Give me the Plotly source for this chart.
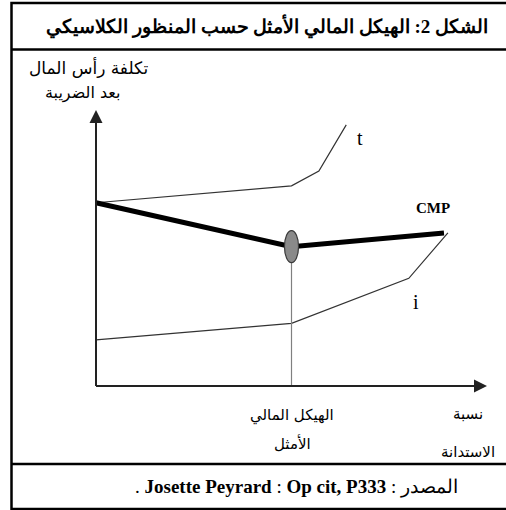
import plotly.graph_objects as go

# ---- data (debt ratio 0..100, cost 0..100 in arbitrary units) ----
t_x = [0, 50, 57, 64]
t_y = [66.4, 72.5, 77.9, 94.6]

cmp_x = [0, 50, 89]
cmp_y = [66.4, 50.5, 55.4]

i_x = [0, 50, 80, 90]
i_y = [16.7, 22.7, 39.0, 55.5]

opt_x = 50
opt_y = 50.5

title_text = "الشكل 2: الهيكل المالي الأمثل حسب المنظور الكلاسيكي"
y_label = ["تكلفة رأس المال", "بعد الضريبة"]
x_opt_label = ["الهيكل المالي", "الأمثل"]
x_label = ["نسبة", "الاستدانة"]
source_text = ". <b>Josette Peyrard</b> : <b>Op cit, P333</b> : المصدر"

W, H = 506, 510
# pixel placement of axes origin and arrow tips
X0PX, X1PX = 96, 487
Y0PX, Y1PX = 386, 110
xspan = 100 * W / (X1PX - X0PX)
xr0 = -X0PX / W * xspan
yspan = 100 * H / (Y0PX - Y1PX)
yr0 = -(H - Y0PX) / H * yspan

def px(x):
    return x / W

def py(y):
    return 1 - y / H

fig = go.Figure()

fig.add_trace(go.Scatter(x=t_x, y=t_y, mode="lines",
                         line=dict(color="#333333", width=1.2), hoverinfo="skip"))
fig.add_trace(go.Scatter(x=i_x, y=i_y, mode="lines",
                         line=dict(color="#333333", width=1.2), hoverinfo="skip"))
# vertical guide at optimum
fig.add_trace(go.Scatter(x=[opt_x, opt_x], y=[0, opt_y], mode="lines",
                         line=dict(color="#808080", width=1.2), hoverinfo="skip"))
fig.add_trace(go.Scatter(x=cmp_x, y=cmp_y, mode="lines",
                         line=dict(color="#000000", width=5), hoverinfo="skip"))

shapes = []
# ellipse at optimum
ew, eh = 3.6 / 2, 11.6 / 2
shapes.append(dict(type="circle", xref="x", yref="y",
                   x0=opt_x - ew, x1=opt_x + ew, y0=opt_y - eh, y1=opt_y + eh,
                   fillcolor="#8a8a8a", line=dict(color="#3a3a3a", width=1.2)))
# axis lines
shapes.append(dict(type="line", xref="x", yref="y", x0=0, y0=0, x1=96, y1=0,
                   line=dict(color="#222222", width=2)))
shapes.append(dict(type="line", xref="x", yref="y", x0=0, y0=0, x1=0, y1=94,
                   line=dict(color="#222222", width=2)))
# frame
fr = dict(color="black", width=2.5)
shapes.append(dict(type="rect", xref="paper", yref="paper",
                   x0=px(11.5), x1=px(512), y0=py(509), y1=py(3), line=fr))
shapes.append(dict(type="line", xref="paper", yref="paper",
                   x0=px(11.5), x1=px(512), y0=py(49.5), y1=py(49.5), line=fr))
shapes.append(dict(type="line", xref="paper", yref="paper",
                   x0=px(11.5), x1=px(512), y0=py(464), y1=py(464), line=fr))

ann = []
# arrowheads
ann.append(dict(x=100, y=0, ax=90, ay=0, xref="x", yref="y", axref="x", ayref="y",
                showarrow=True, arrowhead=2, arrowsize=1.3, arrowwidth=2,
                arrowcolor="#222222", text=""))
ann.append(dict(x=0, y=100, ax=0, ay=88, xref="x", yref="y", axref="x", ayref="y",
                showarrow=True, arrowhead=2, arrowsize=1.3, arrowwidth=2,
                arrowcolor="#222222", text=""))

arab = "DejaVu Sans"
serif = "Liberation Serif, Times New Roman, serif"

def label(xp, yp, text, family, size):
    ann.append(dict(x=px(xp), y=py(yp), xref="paper", yref="paper", showarrow=False,
                    xanchor="center", yanchor="middle", text=text,
                    font=dict(family=family, size=size, color="black")))

label(267, 26, "<b>" + title_text + "</b>", serif, 19)
label(88, 68, y_label[0], arab, 17)
label(83, 93, y_label[1], arab, 16)
label(292, 415, x_opt_label[0], arab, 15)
label(292, 443, x_opt_label[1], arab, 15)
label(468, 414, x_label[0], arab, 15)
label(468, 452, x_label[1], arab, 15)
label(360, 138, "t", serif, 20)
label(433, 208, "<b>CMP</b>", serif, 15)
label(416, 302, "i", serif, 20)
label(296, 487, source_text, serif, 19)

fig.update_layout(
    width=W, height=H, margin=dict(l=0, r=0, t=0, b=0),
    paper_bgcolor="white", plot_bgcolor="white", showlegend=False,
    xaxis=dict(range=[xr0, xr0 + xspan], visible=False, fixedrange=True),
    yaxis=dict(range=[yr0, yr0 + yspan], visible=False, fixedrange=True),
    shapes=shapes, annotations=ann,
)

fig.write_html("out.html", config={"displayModeBar": False},
               post_script="document.body.style.margin='0';document.body.style.overflow='hidden';")
